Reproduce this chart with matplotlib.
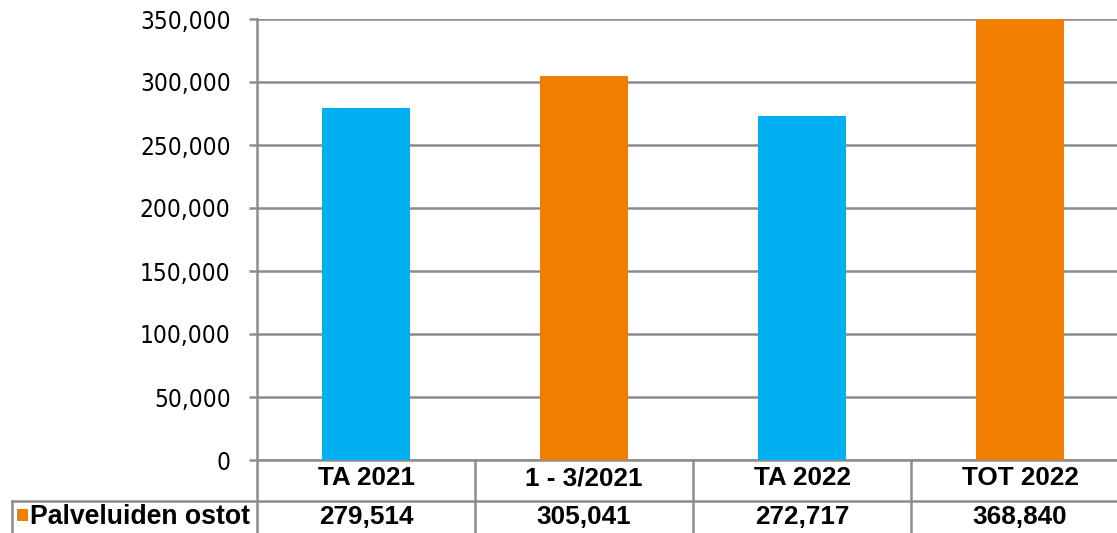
import matplotlib.pyplot as plt
from matplotlib.patches import Rectangle
from matplotlib.lines import Line2D
from matplotlib.transforms import blended_transform_factory

categories = ['TA 2021', '1 - 3/2021', 'TA 2022', 'TOT 2022']
values = [279514, 305041, 272717, 368840]
series_name = 'Palveluiden ostot'
bar_colors = ['#00B0F0', '#F07F00', '#00B0F0', '#F07F00']
yticks = [0, 50000, 100000, 150000, 200000, 250000, 300000, 350000]

W, H = 1117, 533
gray = '#8C8C8C'

def fy(px):
    return 1 - px / H

fig = plt.figure(figsize=(W / 100, H / 100), dpi=100)
ax = fig.add_axes([257 / W, fy(460), (1129 - 257) / W, (460 - 19) / H])

ax.bar(range(len(values)), values, width=0.4, color=bar_colors, zorder=3)
ax.set_xlim(-0.5, len(values) - 0.5)
ax.set_ylim(0, 350000)
ax.set_yticks(yticks)
ax.set_yticklabels([f'{v:,}' for v in yticks], fontsize=17.5,
                   fontfamily='DejaVu Sans', fontstretch='condensed')
ax.set_xticks([])
ax.tick_params(axis='y', length=6, width=1.8, color=gray, pad=13)
ax.yaxis.grid(True, color=gray, linewidth=1.8, zorder=0)
ax.set_axisbelow(True)
for s in ['top', 'right']:
    ax.spines[s].set_visible(False)
for s in ['left', 'bottom']:
    ax.spines[s].set_color(gray)
    ax.spines[s].set_linewidth(1.8)

# data table below the axis
tfont = dict(fontsize=18.8, fontweight='bold', fontfamily='Liberation Sans')
trans = blended_transform_factory(ax.transData, fig.transFigure)
for i in range(len(values)):
    xv = i - 0.5
    ax.add_line(Line2D([xv, xv], [fy(460), fy(545)], transform=trans,
                       color=gray, lw=1.8, clip_on=False))
    ax.text(i, fy(485), categories[i], transform=trans, ha='center',
            va='baseline', **tfont)
    ax.text(i, fy(524), f'{values[i]:,}', transform=trans, ha='center',
            va='baseline', **tfont)

fig.add_artist(Line2D([12 / W, 1], [fy(501), fy(501)], transform=fig.transFigure,
                      color=gray, lw=1.8))
fig.add_artist(Line2D([12 / W, 12 / W], [fy(501), fy(545)], transform=fig.transFigure,
                      color=gray, lw=1.8))
fig.add_artist(Rectangle((17 / W, fy(521)), 11 / W, 12 / H, transform=fig.transFigure,
                         color=bar_colors[1], lw=0))
fig.text(30 / W, fy(524), series_name, ha='left', va='baseline',
         fontsize=19.2, fontweight='bold', fontfamily='Liberation Sans')

fig.savefig('out.png', dpi=100)
